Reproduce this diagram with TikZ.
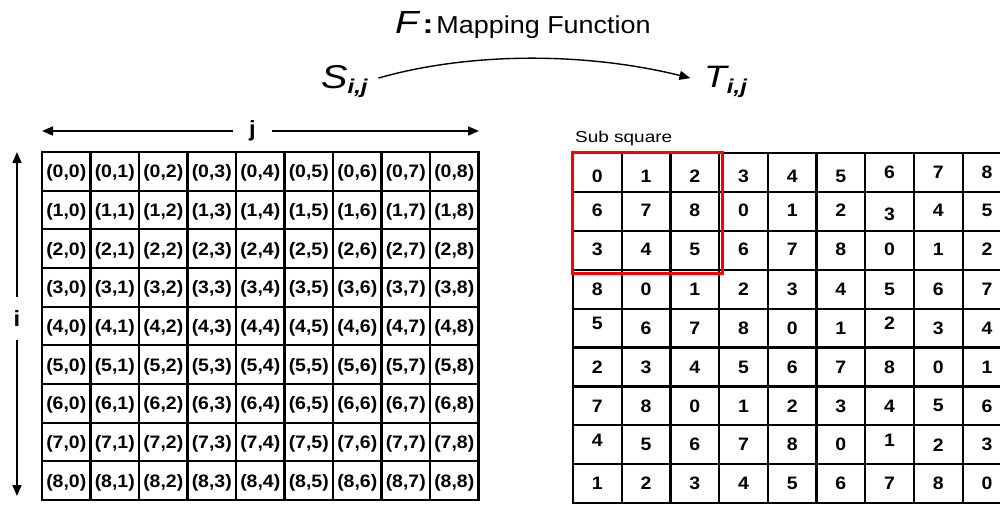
\documentclass[tikz,border=0pt]{standalone}
\usepackage{fontspec}
\setmainfont{Liberation Sans}[FakeStretch=1.2]
\newfontfamily\cellfont{Liberation Sans}[FakeStretch=1.08]
\newfontfamily\titlefont{Liberation Sans}[FakeStretch=1.1]
\usetikzlibrary{arrows.meta,calc}
\begin{document}
\begin{tikzpicture}[x=1pt,y=-1pt,
  gridline/.style={line width=2.2pt,line cap=rect},
  cell/.style={font=\cellfont\fontsize{18}{18}\selectfont\bfseries, inner sep=0pt},
  arr/.style={line width=1.6pt,-{Triangle[length=11pt,width=9pt]}},
  lbl/.style={font=\cellfont\fontsize{22}{22}\selectfont\bfseries, inner sep=0pt}]
\useasboundingbox (0,0) rectangle (1000,504);
\clip (0,0) rectangle (1000,504);

% title
\node[anchor=base west, inner sep=0pt] (title) at (395,33)
  {{\fontsize{32}{32}\selectfont\itshape F}\hspace{4pt}{\fontsize{27}{27}\selectfont\bfseries :}\hspace{3pt}{\titlefont\fontsize{24.5}{24.5}\selectfont Mapping Function}};

% S and T
\node[anchor=base west, inner sep=0pt] (S) at (321,88)
  {{\fontsize{33}{33}\selectfont\itshape S}\raisebox{-5pt}{\fontsize{20}{20}\selectfont\bfseries\itshape i,j}};
\node[anchor=base west, inner sep=0pt] (T) at (704,87)
  {{\fontsize{31}{31}\selectfont\itshape T}\raisebox{-6pt}{\fontsize{20}{20}\selectfont\bfseries\itshape i,j}};
\draw[arr, line width=1.4pt, shorten <=11pt, shorten >=14pt] (S.east) .. controls (470,52) and (585,52) .. (T.west);

% j arrow
\node[lbl, minimum width=39pt] (jlab) at (252.5,131) {j};
\coordinate (jl) at (42,131);
\coordinate (jr) at (479,131);
\draw[arr] (jlab.west) -- (jl);
\draw[arr] (jlab.east) -- (jr);

% i arrow
\node[lbl, minimum height=43pt] (ilab) at (17,318.5) {i};
\coordinate (it) at (17,152);
\coordinate (ib) at (17,496);
\draw[arr] (ilab.north) -- (it);
\draw[arr] (ilab.south) -- (ib);

% left grid
\foreach \k in {0,...,9} {
  \draw[gridline] ({42+48.5*\k},152) -- ({42+48.5*\k},500);
  \draw[gridline] (42,{152+38.667*\k}) -- (478.5,{152+38.667*\k});
}
\foreach \r in {0,...,8} {
  \foreach \c in {0,...,8} {
    \node[cell] (s-\r-\c) at ({42+48.5*(\c+0.5)},{152+38.667*(\r+0.5)+2}) {(\r,\c)};
  }
}

% right grid
\foreach \k in {0,...,9} {
  \draw[gridline] ({573+48.7*\k},153) -- ({573+48.7*\k},503);
  \draw[gridline] (573,{153+38.9*\k}) -- (1012,{153+38.9*\k});
}
\foreach \r/\row in {
  0/{0/4,1/4,2/4,3/4,4/4,5/4,6/0,7/0,8/0},
  1/{6/-1,7/-1,8/-1,0/-1,1/-1,2/-1,3/2.5,4/-1,5/-1},
  2/{3/-1,4/-1,5/-1,6/-1,7/-1,8/-1,0/-1,1/-1,2/-1},
  3/{8/0,0/0,1/0,2/0,3/0,4/0,5/0,6/0,7/0},
  4/{5/-5,6/0,7/0,8/0,0/0,1/0,2/-5,3/0,4/0},
  5/{2/0,3/0,4/0,5/0,6/0,7/0,8/0,0/0,1/0},
  6/{7/0,8/0,0/0,1/0,2/0,3/0,4/0,5/0,6/0},
  7/{4/-4,5/0,6/0,7/0,8/0,0/0,1/-4,2/0,3/0},
  8/{1/0,2/0,3/0,4/0,5/0,6/0,7/0,8/0,0/0}} {
  \foreach \d/\o [count=\c from 0] in \row {
    \node[cell] (t-\r-\c) at ({573+48.7*(\c+0.5)},{153+38.9*(\r+0.5)+\o}) {\d};
  }
}

% sub square
\draw[red, line width=3pt] (572,152) rectangle (722,273);
\node[anchor=base west, inner sep=0pt, font=\fontsize{15.8}{15.8}\selectfont] (sublab) at (575,142) {Sub square};
\end{tikzpicture}
\end{document}
